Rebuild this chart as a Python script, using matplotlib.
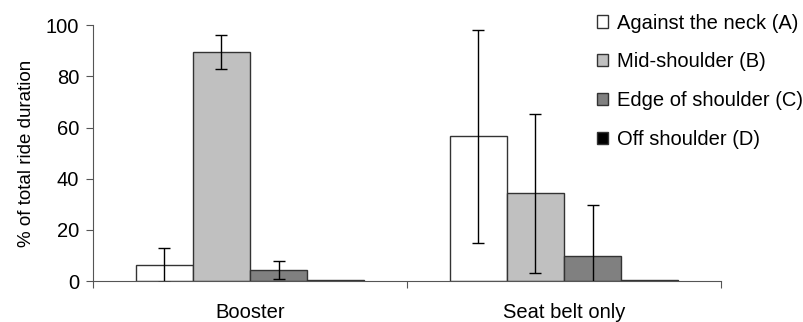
import numpy as np
import matplotlib.pyplot as plt

plt.rcParams['font.family'] = ['Liberation Sans', 'DejaVu Sans']

categories = ['Booster', 'Seat belt only']
series = ['Against the neck (A)', 'Mid-shoulder (B)', 'Edge of shoulder (C)', 'Off shoulder (D)']
values = [
    [6.2, 56.6],
    [89.6, 34.3],
    [4.3, 9.8],
    [0.5, 0.5],
]
errors = [
    [6.7, 41.6],
    [6.6, 31.0],
    [3.5, 19.8],
    [0.0, 0.0],
]
colors = ['white', '#c0c0c0', '#808080', 'black']

fig = plt.figure(figsize=(8.04, 3.22), dpi=100)
ax = fig.add_axes([0.1157, 0.127, 0.781, 0.795])

x = np.arange(len(categories))
w = 0.182
for i, (name, vals, errs, c) in enumerate(zip(series, values, errors, colors)):
    pos = x + (i - 1.5) * w
    ax.bar(pos, vals, w, color=c, edgecolor='#333333', linewidth=1.0, label=name, zorder=2)
    if i < 3:
        ax.errorbar(pos, vals, yerr=errs, fmt='none', ecolor='black', elinewidth=1.0,
                    capsize=4, capthick=1.0, zorder=3)

ax.set_xlim(-0.5, 1.5)
ax.set_ylim(0, 100)
ax.set_yticks([0, 20, 40, 60, 80, 100])
ax.set_ylabel('% of total ride duration', fontsize=13.5, labelpad=8)
ax.tick_params(axis='y', labelsize=14.5, direction='out', length=5, color='#555555', pad=5)

ax.set_xticks([-0.5, 0.5, 1.5])
ax.set_xticklabels([])
ax.tick_params(axis='x', direction='out', length=5, color='#555555')
ax.set_xticks(x, minor=True)
ax.set_xticklabels(categories, minor=True, fontsize=14.5)
ax.tick_params(axis='x', which='minor', length=0, pad=16)

for s in ['top', 'right']:
    ax.spines[s].set_visible(False)
for s in ['left', 'bottom']:
    ax.spines[s].set_color('#555555')

ax.legend(loc='upper left', bbox_to_anchor=(0.802, 1.045), frameon=False, fontsize=14.5,
          handlelength=0.55, handleheight=0.55, handletextpad=0.45, labelspacing=0.98,
          borderaxespad=0, borderpad=0)

plt.savefig('out.png', dpi=100)
